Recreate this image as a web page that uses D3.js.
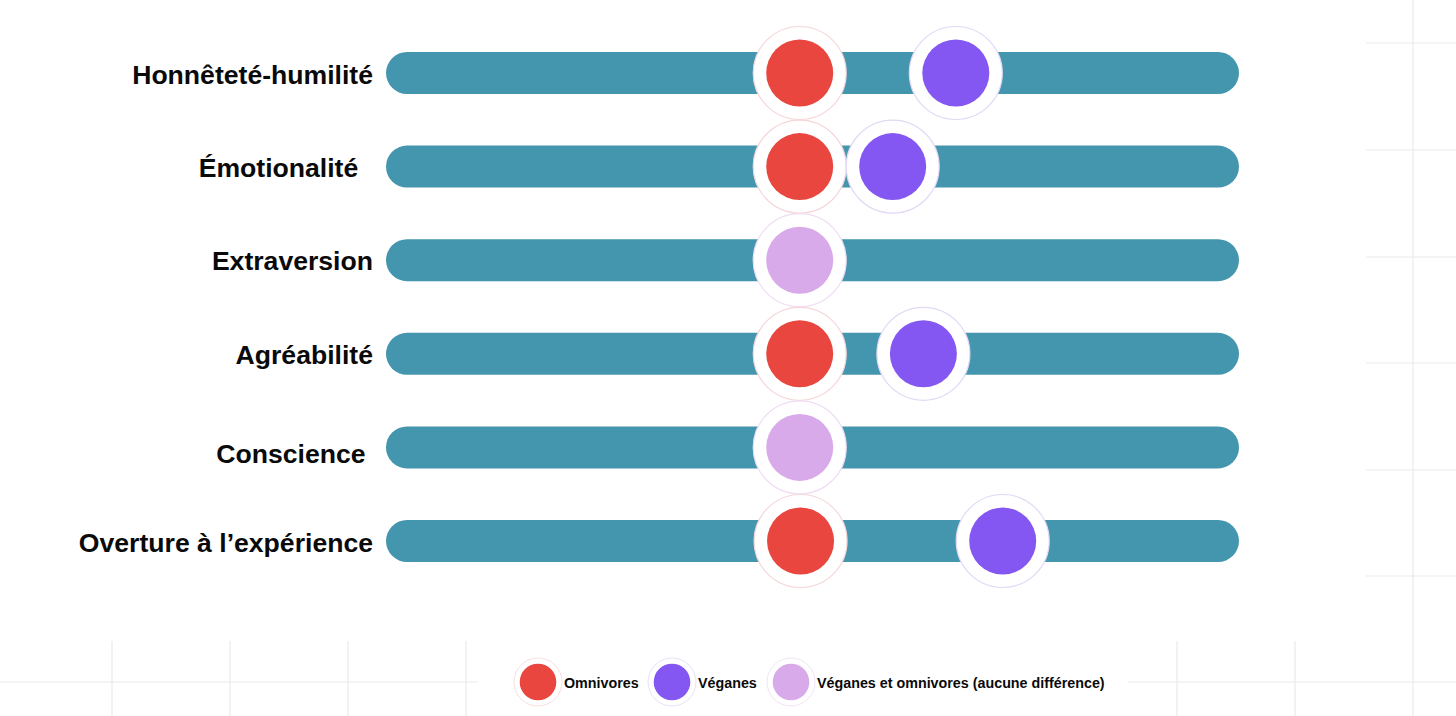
<!DOCTYPE html>
<html>
<head>
<meta charset="utf-8">
<script src="https://cdn.jsdelivr.net/npm/d3@7"></script>
<style>
  html, body { margin: 0; padding: 0; background: #ffffff; }
  svg { display: block; }
  text { font-family: "Liberation Sans", Arial, Helvetica, sans-serif; }
</style>
</head>
<body>
<svg id="chart" width="1456" height="716"></svg>
<script>
// ---- Data ----
const traits = ["Honnêteté-humilité", "Émotionalité  ", "Extraversion", "Agréabilité", "Conscience ", "Overture à l’expérience"];
// position on a 0–100 scale along each bar; null = no separate dot
const omnivores = [48.5, 48.5, null, 48.5, null, 48.6];
const veganes   = [66.8, 59.4, null, 63.0, null, 72.3];
const noDiff    = [null, null, 48.5, null, 48.5, null];
const legendLabels = ["Omnivores", "Véganes", "Véganes et omnivores (aucune différence)"];

// ---- Styles ----
const colors = { omni: "#e8463f", vegan: "#8456f2", same: "#d9aaea", bar: "#4495ae", grid: "#e9e9e9" };
const haloStroke = { omni: "#f6d6d8", vegan: "#e2d8f6", same: "#eedcf4" };
const labelNudge = [1, 1, 0, 1, 6, 1]; // vertical text nudge (px) per row label

const W = 1456, H = 716;
const svg = d3.select("#chart");

// ---- background grid (decorative) ----
const grid = svg.append("g").attr("stroke", colors.grid).attr("stroke-width", 1.2);
grid.append("line").attr("x1", 1413).attr("x2", 1413).attr("y1", 0).attr("y2", H);
[43, 150, 257, 363, 470, 576].forEach(y =>
  grid.append("line").attr("x1", 1366).attr("x2", W).attr("y1", y).attr("y2", y));
grid.append("line").attr("x1", 0).attr("x2", 478).attr("y1", 682).attr("y2", 682);
grid.append("line").attr("x1", 1128).attr("x2", W).attr("y1", 682).attr("y2", 682);
[112, 230, 348, 466, 1177, 1295].forEach(x =>
  grid.append("line").attr("x1", x).attr("x2", x).attr("y1", 641).attr("y2", H));

// ---- scales ----
const x = d3.scaleLinear().domain([0, 100]).range([386, 1239]);
const y = d3.scalePoint().domain(traits).range([73, 541]);
const barH = 42;

// ---- bars ----
svg.append("g").selectAll("rect").data(traits).join("rect")
  .attr("x", x(0)).attr("width", x(100) - x(0))
  .attr("y", d => y(d) - barH / 2).attr("height", barH)
  .attr("rx", barH / 2).attr("ry", barH / 2)
  .attr("fill", colors.bar);

// ---- labels ----
svg.append("g").selectAll("text").data(traits).join("text")
  .attr("x", 373).attr("y", (d, i) => y(d) + labelNudge[i])
  .attr("dy", "0.36em")
  .attr("text-anchor", "end")
  .attr("font-size", 26.6).attr("font-weight", "bold")
  .attr("fill", "#0a0a0a")
  .style("white-space", "pre")
  .text(d => d);

// ---- dots ----
const rDot = 33.5, rHalo = 46.5;
function drawDots(values, key) {
  const pts = traits.map((t, i) => ({ t, v: values[i] })).filter(d => d.v != null);
  const g = svg.append("g");
  g.selectAll("circle.halo").data(pts).join("circle")
    .attr("class", "halo")
    .attr("cx", d => x(d.v)).attr("cy", d => y(d.t)).attr("r", rHalo)
    .attr("fill", "#fff").attr("stroke", haloStroke[key]).attr("stroke-width", 1.2);
  g.selectAll("circle.dot").data(pts).join("circle")
    .attr("class", "dot")
    .attr("cx", d => x(d.v)).attr("cy", d => y(d.t)).attr("r", rDot)
    .attr("fill", colors[key]);
}
drawDots(omnivores, "omni");
drawDots(noDiff, "same");
drawDots(veganes, "vegan");

// ---- legend ----
const legendKeys = ["omni", "vegan", "same"];
const legendX = [538, 672, 791];
const legY = 682;
const lg = svg.append("g");
legendLabels.forEach((lab, i) => {
  const k = legendKeys[i];
  lg.append("circle").attr("cx", legendX[i]).attr("cy", legY).attr("r", 24)
    .attr("fill", "#fff").attr("stroke", haloStroke[k]).attr("stroke-width", 0.8);
  lg.append("circle").attr("cx", legendX[i]).attr("cy", legY).attr("r", 18.3)
    .attr("fill", colors[k]);
  lg.append("text").attr("x", legendX[i] + 26).attr("y", legY + 1).attr("dy", "0.36em")
    .attr("font-size", 14.3).attr("font-weight", "bold").attr("fill", "#0a0a0a")
    .text(lab);
});
</script>
</body>
</html>
